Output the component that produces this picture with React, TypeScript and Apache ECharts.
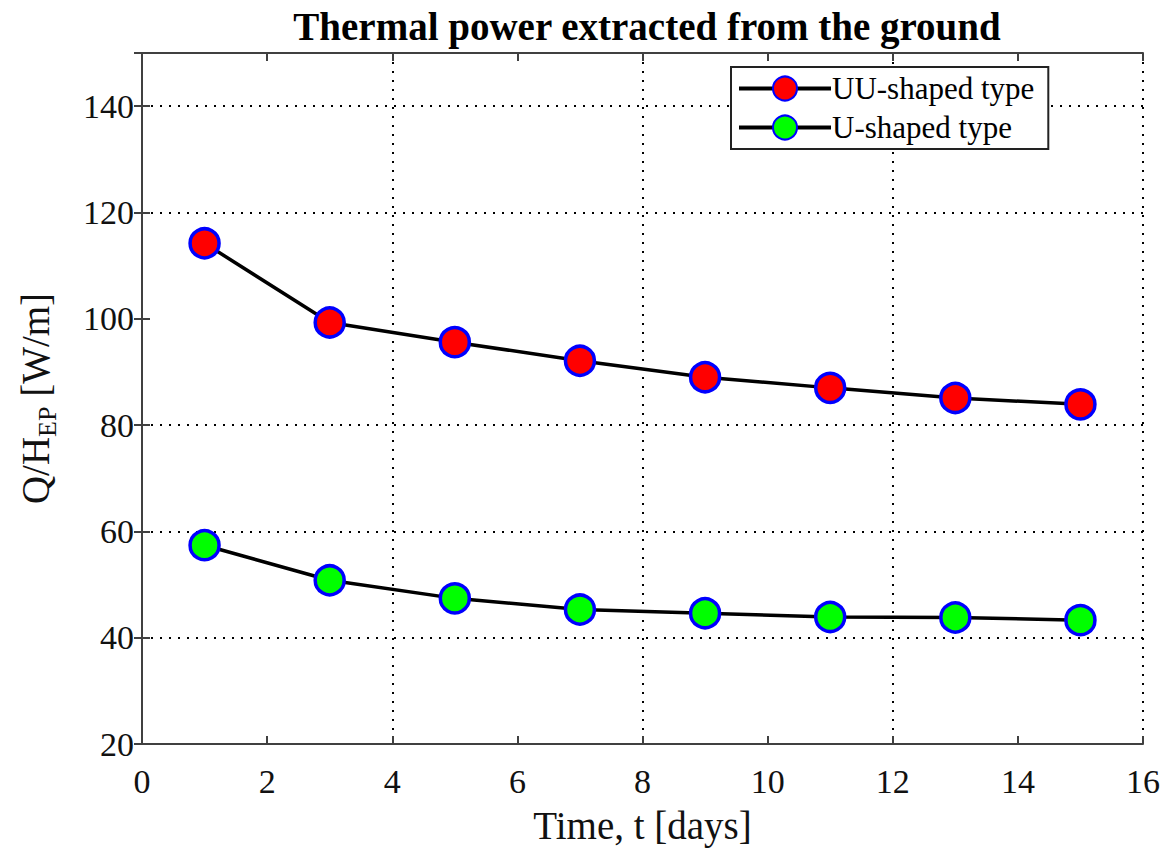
import React, { useEffect, useRef } from "react";
import * as echarts from "echarts";

const days = [1, 3, 5, 7, 9, 11, 13, 15];
const uuShaped = [114.2, 99.3, 95.6, 92.1, 89.0, 87.0, 85.1, 83.9];
const uShaped = [57.4, 50.8, 47.4, 45.3, 44.6, 43.9, 43.8, 43.3];

const serif = "'Liberation Serif', 'Times New Roman', serif";

export default function App() {
  const ref = useRef<HTMLDivElement>(null);
  useEffect(() => {
    if (!ref.current) return;
    const chart = echarts.init(ref.current, null, { renderer: "svg" });
    const axisLineStyle = { color: "#404040", width: 2 };
    const hiddenAxisBits = {
      axisLine: { show: false },
      axisTick: { show: false },
      axisLabel: { show: false },
    };
    const dotted = { color: "#000", width: 2, type: [2, 7] as number[] };
    const mkSeries = (name: string, data: number[], fill: string) => ({
      name,
      type: "line",
      xAxisIndex: 0,
      yAxisIndex: 0,
      data: days.map((d, i) => [d, data[i]]),
      symbol: "circle",
      symbolSize: 29,
      lineStyle: { color: "#000", width: 3.5 },
      itemStyle: { color: fill, borderColor: "#0000ff", borderWidth: 3.5 },
      z: 5,
    });
    chart.setOption({
      animation: false,
      backgroundColor: "#fff",
      title: {
        text: "Thermal power extracted from the ground",
        left: 642,
        textAlign: "center",
        top: 2,
        textStyle: { fontFamily: serif, fontWeight: "bold", fontSize: 39, color: "#000" },
      },
      legend: {
        orient: "vertical",
        left: 731,
        top: 67,
        itemWidth: 92,
        itemHeight: 30,
        itemGap: 8,
        padding: [6, 14, 6, 6],
        borderColor: "#222",
        borderWidth: 2,
        backgroundColor: "#fff",
        lineStyle: { width: 4, color: "#000" },
        textStyle: { fontFamily: serif, fontSize: 31, color: "#000", padding: [0, 0, 0, -4] },
        data: ["UU-shaped type", "U-shaped type"],
      },
      grid: { left: 142, top: 53, width: 1001, height: 691 },
      xAxis: [
        {
          type: "value",
          min: 0,
          max: 16,
          interval: 2,
          position: "bottom",
          axisLine: { lineStyle: axisLineStyle },
          axisTick: { inside: true, length: 8, lineStyle: axisLineStyle },
          axisLabel: { fontFamily: serif, fontSize: 34, color: "#111", margin: 20 },
          splitLine: { show: false },
          name: "Time, t [days]",
          nameLocation: "middle",
          nameGap: 62,
          nameTextStyle: { fontFamily: serif, fontSize: 39, color: "#111" },
        },
        {
          type: "value",
          min: 0,
          max: 16,
          interval: 2,
          position: "top",
          axisLine: { lineStyle: axisLineStyle },
          axisTick: { inside: true, length: 8, lineStyle: axisLineStyle },
          axisLabel: { show: false },
          splitLine: { show: false },
        },
        {
          type: "value",
          min: 0,
          max: 16,
          interval: 4,
          position: "bottom",
          ...hiddenAxisBits,
          splitLine: { show: true, lineStyle: dotted },
        },
      ],
      yAxis: [
        {
          type: "value",
          min: 20,
          max: 150,
          interval: 20,
          position: "left",
          axisLine: { lineStyle: axisLineStyle },
          axisTick: { inside: true, length: 8, lineStyle: axisLineStyle },
          axisLabel: {
            fontFamily: serif,
            fontSize: 34,
            color: "#111",
            margin: 8,
            formatter: (v: number) => (v === 150 ? "" : String(v)),
          },
          splitLine: {
            show: true,
            lineStyle: {
              ...dotted,
              color: ["rgba(0,0,0,0)", "#000", "#000", "#000", "rgba(0,0,0,0)", "#000", "#000", "rgba(0,0,0,0)"],
            },
          },
          name: "{m|Q/H}{s|EP}{m| [W/m]}",
          nameLocation: "middle",
          nameRotate: 90,
          nameGap: 82,
          nameTextStyle: {
            rich: {
              m: { fontFamily: serif, fontSize: 39, color: "#111" },
              s: { fontFamily: serif, fontSize: 26, color: "#111", verticalAlign: "bottom", padding: [24, 0, 0, 0] },
            },
          },
        },
        {
          type: "value",
          min: 20,
          max: 150,
          interval: 20,
          position: "right",
          axisLine: { lineStyle: axisLineStyle },
          axisTick: { inside: true, length: 8, lineStyle: axisLineStyle },
          axisLabel: { show: false },
          splitLine: { show: false },
        },
      ],
      series: [mkSeries("UU-shaped type", uuShaped, "#ff0000"), mkSeries("U-shaped type", uShaped, "#00ff00")],
    });
    return () => chart.dispose();
  }, []);
  return (
    <div
      ref={ref}
      style={{ position: "absolute", left: 0, top: 0, width: 1168, height: 853 }}
    />
  );
}
